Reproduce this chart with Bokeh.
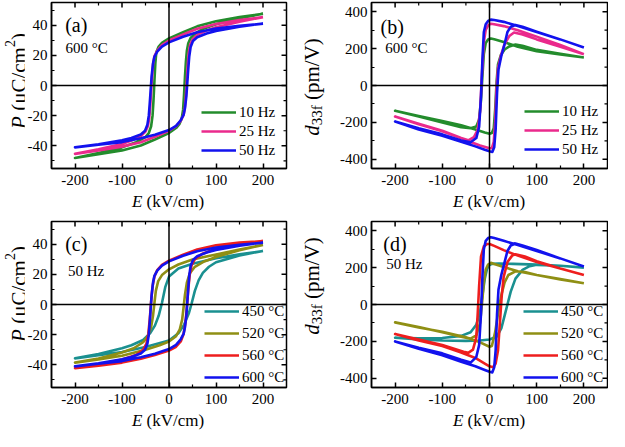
import math
from bokeh.plotting import figure
from bokeh.models import Span, Label, Legend, LegendItem, Range1d, FixedTicker, Div
from bokeh.layouts import row, column
from bokeh.embed import file_html
from bokeh.resources import INLINE

FONT = "Liberation Serif"

# ---------------- ticks ----------------
E_RANGE = (-250, 250)
E_TICKS = [-200, -100, 0, 100, 200]
E_TICK_LABELS = ["-200", "-100", "0", "100", "200"]
E_MINOR = [-150, -50, 50, 150]
P_RANGE = (-55, 55)
P_TICKS = [-40, -20, 0, 20, 40]
P_TICK_LABELS = ["-40", "-20", "0", "20", "40"]
P_MINOR = [-50, -30, -10, 10, 30, 50]
D_RANGE = (-450, 450)
D_TICKS = [-400, -200, 0, 200, 400]
D_TICK_LABELS = ["-400", "-200", "0", "200", "400"]
D_MINOR = [-300, -100, 100, 300]

# ---------------- panel (a): P-E loops, 600 C ----------------
a_labels = ["10 Hz", "25 Hz", "50 Hz"]
a10_E_dn = [200, 150, 100, 60, 30, 0, -15, -22, -27, -29, -31, -33, -35, -38, -43, -50, -70, -100, -150, -200]
a10_P_dn = [47.5, 45.3, 42.6, 39.2, 35.3, 31.2, 28.2, 25.8, 22.0, 15.0, 3.0, -10.0, -20.0, -27.0, -31.5, -34.2, -37.6, -41.0, -44.8, -48.0]
a10_E_up = [-150, -100, -60, -30, 0, 15, 22, 27, 30, 32, 34, 36, 38, 41, 46, 55, 70, 100, 150, 200]
a10_P_up = [-45.6, -43.0, -39.8, -35.8, -31.5, -28.2, -25.6, -22.0, -16.0, -6.0, 6.0, 16.0, 23.0, 28.0, 31.5, 34.2, 37.2, 40.6, 44.6, 47.5]

a25_E_dn = [200, 150, 100, 60, 30, 0, -15, -25, -31, -34, -36, -38, -40, -42, -45, -50, -60, -80, -100, -150, -200]
a25_P_dn = [45.3, 43.4, 40.8, 37.6, 33.8, 29.8, 26.8, 23.2, 19.5, 14.0, 6.0, -4.0, -14.0, -21.5, -27.0, -30.5, -33.5, -36.5, -38.7, -42.3, -45.3]
a25_E_up = [-150, -100, -60, -30, 0, 15, 25, 31, 34, 36, 38, 40, 42, 45, 50, 60, 80, 100, 150, 200]
a25_P_up = [-43.0, -40.5, -37.6, -34.0, -30.0, -27.0, -23.4, -19.5, -14.0, -6.0, 4.0, 14.0, 21.5, 27.0, 30.5, 33.5, 36.4, 38.6, 42.3, 45.3]

a50_E_dn = [200, 150, 100, 60, 30, 0, -15, -25, -31, -34, -37, -39, -41, -43, -46, -51, -60, -80, -100, -150, -200]
a50_P_dn = [41.0, 39.6, 37.8, 35.3, 32.3, 28.6, 25.8, 22.5, 19.0, 14.5, 6.0, -3.0, -12.0, -20.0, -26.0, -30.0, -32.5, -34.8, -36.3, -39.0, -41.0]
a50_E_up = [-150, -100, -60, -30, 0, 15, 25, 31, 34, 37, 39, 41, 43, 46, 51, 60, 80, 100, 150, 200]
a50_P_up = [-39.3, -37.5, -35.0, -32.6, -29.5, -26.8, -23.0, -19.5, -15.0, -7.0, 2.0, 11.0, 19.0, 25.5, 29.5, 32.0, 34.5, 36.2, 39.0, 41.0]

# ---------------- panel (b): d33f-E loops, 600 C ----------------
b10_E_dn = [200, 150, 100, 60, 30, 10, 3, -3, -8, -12, -15, -18, -22, -28, -40, -60, -100, -150, -200]
b10_d_dn = [152, 168, 186, 210, 236, 251, 255, 249, 230, 170, 50, -80, -185, -222, -232, -226, -200, -168, -137]
b10_E_up = [-150, -100, -60, -30, -10, 0, 5, 9, 12, 15, 18, 24, 32, 42, 55, 70, 100, 150, 200]
b10_d_up = [-166, -193, -216, -238, -255, -262, -258, -232, -130, 20, 115, 165, 195, 212, 222, 216, 193, 172, 152]

b25_E_dn = [200, 150, 100, 60, 30, 10, 3, -3, -8, -12, -16, -20, -25, -33, -45, -60, -100, -150, -200]
b25_d_dn = [170, 220, 265, 300, 322, 332, 335, 326, 302, 235, 60, -140, -240, -280, -297, -285, -245, -208, -168]
b25_E_up = [-150, -100, -60, -40, -20, 0, 5, 9, 12, 15, 18, 24, 32, 42, 52, 70, 100, 150, 200]
b25_d_up = [-210, -248, -286, -306, -325, -340, -340, -305, -200, -10, 95, 160, 225, 268, 287, 276, 250, 210, 170]

b50_E_dn = [200, 150, 100, 60, 30, 10, 3, -3, -8, -12, -15, -18, -22, -28, -40, -60, -100, -150, -200]
b50_d_dn = [206, 250, 290, 322, 345, 355, 357, 350, 332, 290, 140, -60, -225, -285, -308, -298, -265, -232, -195]
b50_E_up = [-150, -100, -60, -30, -10, 0, 6, 10, 13, 16, 19, 25, 32, 38, 45, 55, 70, 100, 150, 200]
b50_d_up = [-238, -272, -305, -330, -348, -356, -360, -335, -240, -40, 85, 160, 225, 290, 318, 328, 318, 292, 250, 206]

# ---------------- panel (c): P-E loops, 50 Hz ----------------
c_labels = ["450 °C", "520 °C", "560 °C", "600 °C"]
c450_E_dn = [200, 150, 100, 50, 20, 0, -8, -15, -22, -30, -40, -55, -80, -100, -150, -200]
c450_P_dn = [35.5, 33.2, 30.6, 27.0, 23.8, 18.5, 11.5, 1.0, -7.5, -14.0, -19.0, -23.5, -27.0, -29.0, -32.8, -35.7]
c450_E_up = [-150, -100, -50, 0, 20, 32, 42, 48, 55, 63, 72, 85, 100, 150, 200]
c450_P_up = [-33.6, -31.5, -28.2, -23.8, -19.0, -13.5, -6.0, 0.5, 9.0, 16.0, 21.0, 25.0, 28.0, 32.5, 35.5]

c520_E_dn = [200, 150, 100, 50, 20, 0, -15, -23, -28, -31, -34, -38, -44, -55, -75, -100, -150, -200]
c520_P_dn = [39.5, 36.5, 33.2, 29.8, 26.5, 23.3, 19.5, 15.5, 9.0, 1.0, -7.5, -15.0, -20.5, -25.0, -29.0, -31.8, -35.8, -38.5]
c520_E_up = [-150, -100, -50, -20, 0, 15, 23, 28, 31, 34, 38, 44, 55, 75, 100, 150, 200]
c520_P_up = [-36.5, -34.0, -30.0, -27.0, -24.5, -21.0, -16.5, -10.0, -2.0, 6.5, 14.5, 20.5, 25.0, 28.5, 31.5, 36.0, 39.5]

c560_E_dn = [200, 150, 100, 60, 30, 0, -15, -25, -31, -35, -38, -41, -44, -48, -55, -70, -100, -150, -200]
c560_P_dn = [42.0, 41.0, 39.2, 36.5, 33.0, 29.0, 26.3, 22.8, 18.5, 12.0, 2.0, -10.0, -19.5, -26.0, -30.0, -33.5, -36.5, -40.0, -42.2]
c560_E_up = [-150, -100, -60, -30, 0, 15, 25, 31, 35, 38, 41, 44, 48, 55, 70, 100, 150, 200]
c560_P_up = [-40.5, -38.5, -36.0, -33.5, -30.5, -28.0, -24.5, -19.5, -12.0, -2.0, 10.0, 19.5, 26.0, 30.0, 33.5, 37.0, 40.2, 42.0]

c600_E_dn = a50_E_dn
c600_P_dn = a50_P_dn
c600_E_up = a50_E_up
c600_P_up = a50_P_up

# ---------------- panel (d): d33f-E loops, 50 Hz ----------------
d450_E_dn = [200, 150, 100, 50, 20, 5, 0, -5, -10, -15, -20, -28, -40, -60, -100, -150, -200]
d450_d_dn = [200, 210, 216, 220, 222, 220, 214, 195, 140, 50, -40, -110, -150, -170, -182, -183, -180]
d450_E_up = [-150, -100, -50, -20, 0, 15, 25, 32, 38, 45, 55, 70, 85, 100, 150, 200]
d450_d_up = [-190, -195, -197, -195, -190, -175, -130, -60, 0, 70, 140, 188, 208, 215, 210, 200]

d520_E_dn = [200, 150, 100, 60, 30, 10, 3, -3, -8, -12, -16, -20, -28, -40, -60, -100, -150, -200]
d520_d_dn = [115, 138, 160, 180, 203, 220, 226, 216, 190, 120, 0, -100, -168, -185, -175, -150, -122, -97]
d520_E_up = [-150, -100, -50, -20, 0, 5, 12, 18, 25, 32, 40, 55, 75, 100, 150, 200]
d520_d_up = [-125, -148, -178, -205, -229, -225, -150, -50, 50, 120, 160, 180, 176, 160, 136, 115]

d560_E_dn = [200, 150, 100, 60, 30, 10, 0, -5, -12, -18, -22, -25, -28, -35, -45, -55, -80, -100, -150, -200]
d560_d_dn = [160, 195, 230, 265, 295, 318, 328, 328, 315, 260, 100, -50, -180, -245, -262, -256, -236, -220, -190, -160]
d560_E_up = [-150, -100, -60, -30, -10, 0, 8, 13, 18, 22, 26, 30, 38, 48, 55, 75, 100, 150, 200]
d560_d_up = [-195, -225, -260, -290, -320, -335, -340, -320, -250, -100, 50, 150, 230, 265, 272, 260, 235, 195, 160]

d600_E_dn = [200, 150, 100, 60, 30, 10, 3, -3, -8, -12, -15, -18, -22, -28, -40, -60, -100, -150, -200]
d600_d_dn = [206, 250, 290, 322, 345, 360, 365, 360, 345, 300, 150, -50, -220, -285, -315, -300, -265, -235, -200]
d600_E_up = [-150, -100, -60, -30, -10, 0, 6, 10, 13, 16, 19, 25, 32, 38, 45, 55, 70, 100, 150, 200]
d600_d_up = [-240, -275, -310, -335, -355, -365, -368, -340, -250, -50, 80, 160, 230, 290, 320, 331, 320, 295, 250, 206]

# ---------------- styling ----------------
GREEN, PINK, BLUE = "#238c2c", "#ea2a8c", "#1212ee"
TEAL, OLIVE, RED = "#1a9090", "#8f8f14", "#ee1e1e"
LW = 2.6
FW, FH = 236, 166
BB = 25            # bottom border: tick labels
YT_A, YT_B = 24, 36   # widths of the y-title columns
BL_A, BL_B = 26, 35   # left borders (tick labels)
BR_A, BR_B = 14, 1


def style_axis(ax):
    ax.axis_line_color = "black"
    ax.axis_line_width = 1.5
    ax.major_tick_line_color = "black"
    ax.major_tick_line_width = 1.5
    ax.minor_tick_line_color = "black"
    ax.minor_tick_line_width = 1.2
    ax.major_tick_in = 5
    ax.major_tick_out = 0
    ax.minor_tick_in = 3
    ax.minor_tick_out = 0
    ax.major_label_text_font = FONT
    ax.major_label_text_font_size = "15px"
    ax.major_label_text_color = "black"
    ax.axis_label = None


def make_panel(bl, br, bt, y_range, y_ticks, y_tick_labels, y_minor):
    p = figure(width=bl + FW + br, height=bt + FH + BB,
               x_range=Range1d(*E_RANGE), y_range=Range1d(*y_range),
               output_backend="svg", toolbar_location=None,
               min_border_left=bl, min_border_right=br,
               min_border_top=bt, min_border_bottom=BB)
    p.grid.visible = False
    p.outline_line_color = "black"
    p.outline_line_width = 1.5
    p.outline_line_alpha = 1.0
    p.background_fill_color = "white"
    p.border_fill_color = "white"
    xa = p.xaxis[0]
    ya = p.yaxis[0]
    xa.ticker = FixedTicker(ticks=E_TICKS, minor_ticks=E_MINOR)
    ya.ticker = FixedTicker(ticks=y_ticks, minor_ticks=y_minor)
    style_axis(xa)
    style_axis(ya)
    xa.major_label_overrides = dict(zip(E_TICKS, E_TICK_LABELS))
    ya.major_label_overrides = dict(zip(y_ticks, y_tick_labels))
    xa.major_label_standoff = 6
    ya.major_label_standoff = 4
    # inward ticks on the top and right frame edges
    top, right = y_range[1], E_RANGE[1]
    dyp = (y_range[1] - y_range[0]) / FH
    dxp = (E_RANGE[1] - E_RANGE[0]) / FW
    p.segment(E_TICKS, [top] * len(E_TICKS), E_TICKS, [top - 5 * dyp] * len(E_TICKS),
              line_color="black", line_width=1.5)
    p.segment(E_MINOR, [top] * len(E_MINOR), E_MINOR, [top - 3 * dyp] * len(E_MINOR),
              line_color="black", line_width=1.2)
    p.segment([right] * len(y_ticks), y_ticks, [right - 5 * dxp] * len(y_ticks), y_ticks,
              line_color="black", line_width=1.5)
    p.segment([right] * len(y_minor), y_minor, [right - 3 * dxp] * len(y_minor), y_minor,
              line_color="black", line_width=1.2)
    p.add_layout(Span(location=0, dimension="height", line_color="black", line_width=1.5))
    p.add_layout(Span(location=0, dimension="width", line_color="black", line_width=1.5))
    return p


def add_loops(p, loops, colors):
    rs = []
    for (e_dn, v_dn, e_up, v_up), c in zip(loops, colors):
        rs.append(p.line(e_dn + e_up, v_dn + v_up, line_color=c, line_width=LW, line_join="round"))
    return rs


def add_legend(p, rs, labels, loc, gh, spacing):
    items = [LegendItem(label=l, renderers=[r]) for l, r in zip(labels, rs)]
    leg = Legend(items=items, location=loc, glyph_width=35, glyph_height=gh, label_height=gh,
                 spacing=spacing, padding=0, margin=0, label_standoff=3,
                 label_text_font=FONT, label_text_font_size="15px", label_text_color="black",
                 border_line_alpha=0, background_fill_alpha=0)
    p.add_layout(leg)


def data_text(p, x, y, text, size):
    p.add_layout(Label(x=x, y=y, text=text, text_font=FONT, text_font_size=size,
                       text_baseline="alphabetic", text_align="left", text_color="black"))


FONT_CSS = "font-family:'Liberation Serif',serif;color:#000;white-space:nowrap;"


def x_title_div(width, height, frame_center_x):
    html = ('<div style="position:relative;width:%dpx;height:%dpx;">'
            '<span style="position:absolute;top:0px;left:%.1fpx;transform:translateX(-50%%);'
            'font-size:17px;line-height:17px;%s"><i>E</i> (kV/cm)</span></div>'
            % (width, height, frame_center_x, FONT_CSS))
    return Div(text=html, width=width, height=height, margin=0)


def y_title_div(width, height, center_y, left, inner):
    html = ('<div style="position:relative;width:%dpx;height:%dpx;">'
            '<span style="position:absolute;left:%dpx;top:%.1fpx;'
            'transform:translateY(-50%%) rotate(180deg);writing-mode:vertical-rl;'
            'font-size:21px;line-height:21px;%s">%s</span></div>'
            % (width, height, left, center_y, FONT_CSS, inner))
    return Div(text=html, width=width, height=height, margin=0)


P_TITLE = '<i>P</i> (&mu;C/cm<sup style="font-size:14px;">2</sup>)'
D_TITLE = '<i>d</i><sub style="font-size:15px;">33f</sub> (pm/V)'

# ---------------- panels ----------------
BT1, BT2 = 2, 8
XT1, XT2 = 20, 18

pa = make_panel(BL_A, BR_A, BT1, P_RANGE, P_TICKS, P_TICK_LABELS, P_MINOR)
ra = add_loops(pa, [(a10_E_dn, a10_P_dn, a10_E_up, a10_P_up),
                    (a25_E_dn, a25_P_dn, a25_E_up, a25_P_up),
                    (a50_E_dn, a50_P_dn, a50_E_up, a50_P_up)], [GREEN, PINK, BLUE])
add_legend(pa, ra, a_labels, (150, 9), 18, 1)
data_text(pa, -221, 40, "(a)", "20px")
data_text(pa, -220, 25, "600 °C", "15px")

pb = make_panel(BL_B, BR_B, BT1, D_RANGE, D_TICKS, D_TICK_LABELS, D_MINOR)
rb = add_loops(pb, [(b10_E_dn, b10_d_dn, b10_E_up, b10_d_up),
                    (b25_E_dn, b25_d_dn, b25_E_up, b25_d_up),
                    (b50_E_dn, b50_d_dn, b50_E_up, b50_d_up)], [GREEN, PINK, BLUE])
add_legend(pb, rb, a_labels, (153, 10), 18, 1)
data_text(pb, -231, 316, "(b)", "20px")
data_text(pb, -221, 205, "600 °C", "15px")

pc = make_panel(BL_A, BR_A, BT2, P_RANGE, P_TICKS, P_TICK_LABELS, P_MINOR)
rc = add_loops(pc, [(c450_E_dn, c450_P_dn, c450_E_up, c450_P_up),
                    (c520_E_dn, c520_P_dn, c520_E_up, c520_P_up),
                    (c560_E_dn, c560_P_dn, c560_E_up, c560_P_up),
                    (c600_E_dn, c600_P_dn, c600_E_up, c600_P_up)], [TEAL, OLIVE, RED, BLUE])
add_legend(pc, rc, c_labels, (153, 0), 20, 2)
data_text(pc, -221, 40, "(c)", "20px")
data_text(pc, -215, 22.5, "50 Hz", "15px")

pd = make_panel(BL_B, BR_B, BT2, D_RANGE, D_TICKS, D_TICK_LABELS, D_MINOR)
rd = add_loops(pd, [(d450_E_dn, d450_d_dn, d450_E_up, d450_d_up),
                    (d520_E_dn, d520_d_dn, d520_E_up, d520_d_up),
                    (d560_E_dn, d560_d_dn, d560_E_up, d560_d_up),
                    (d600_E_dn, d600_d_dn, d600_E_up, d600_d_up)], [TEAL, OLIVE, RED, BLUE])
add_legend(pd, rd, c_labels, (152, 0), 20, 2)
data_text(pd, -225, 326, "(d)", "20px")
data_text(pd, -219, 218, "50 Hz", "15px")

wa = BL_A + FW + BR_A
wb = BL_B + FW + BR_B
h1 = BT1 + FH + BB + XT1
h2 = BT2 + FH + BB + XT2

row1 = row(
    y_title_div(YT_A, h1, BT1 + FH / 2 - 4, 0, P_TITLE),
    column(pa, x_title_div(wa, XT1, BL_A + FW / 2), spacing=0),
    y_title_div(YT_B, h1, BT1 + FH / 2 + 2, 2, D_TITLE),
    column(pb, x_title_div(wb, XT1, BL_B + FW / 2), spacing=0),
    spacing=0)
row2 = row(
    y_title_div(YT_A, h2, BT2 + FH / 2 - 10, 0, P_TITLE),
    column(pc, x_title_div(wa, XT2, BL_A + FW / 2), spacing=0),
    y_title_div(YT_B, h2, BT2 + FH / 2 - 18, 2, D_TITLE),
    column(pd, x_title_div(wb, XT2, BL_B + FW / 2), spacing=0),
    spacing=0)
layout = column(row1, row2, spacing=0)

with open("out.html", "w") as f:
    f.write(file_html(layout, INLINE))
